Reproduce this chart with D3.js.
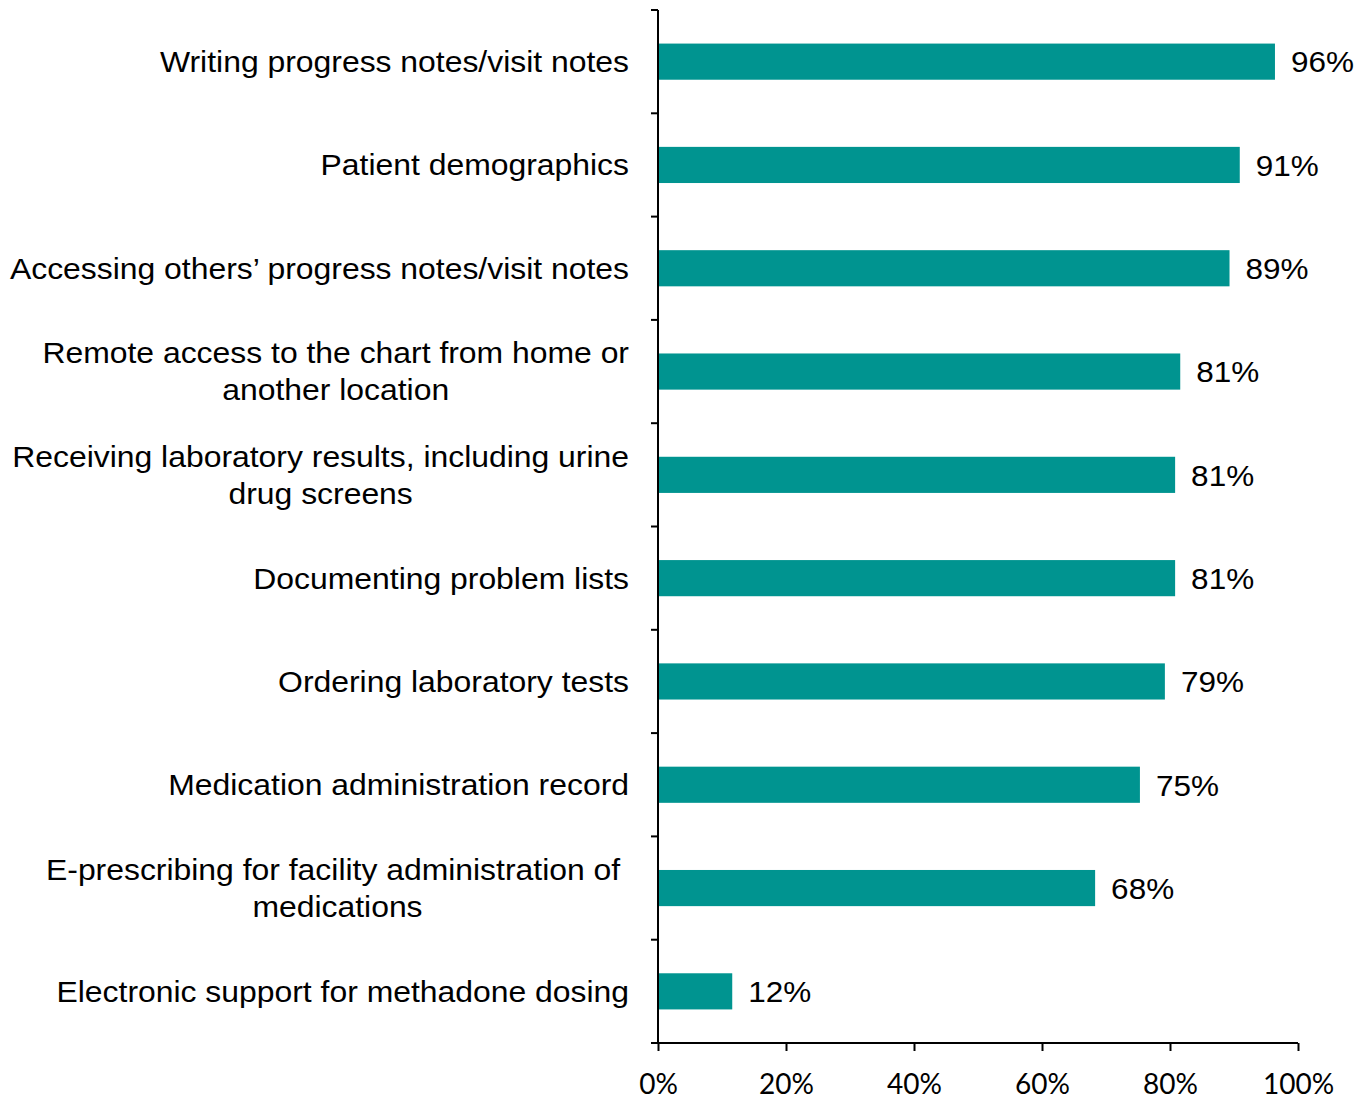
<!DOCTYPE html>
<html lang="en">
<head>
<meta charset="UTF-8">
<title>EHR functions</title>
<script src="https://d3js.org/d3.v7.min.js"></script>
<style>
  body { margin: 0; background: #fff; }
  .cat { font-family: "Liberation Sans", Arial, sans-serif; font-size: 29px; fill: #000; }
  .val { font-family: "Liberation Sans", Arial, sans-serif; font-size: 30px; fill: #000; }
  .tick text { font-family: Lato, "Open Sans", sans-serif; font-size: 28px; fill: #000; }
</style>
</head>
<body>
<script>
// category labels (lines as shown), bar values, value labels
var categories = [
  ["Writing progress notes/visit notes"],
  ["Patient demographics"],
  ["Accessing others\u2019 progress notes/visit notes"],
  ["Remote access to the chart from home or", "another location"],
  ["Receiving laboratory results, including urine", "drug screens"],
  ["Documenting problem lists"],
  ["Ordering laboratory tests"],
  ["Medication administration record"],
  ["E-prescribing for facility administration of\u00a0", "medications"],
  ["Electronic support for methadone dosing"]
];
var values = [96.4, 90.9, 89.3, 81.6, 80.8, 80.8, 79.2, 75.3, 68.3, 11.6];
var valueLabels = ["96%", "91%", "89%", "81%", "81%", "81%", "79%", "75%", "68%", "12%"];
var xTicks = [0, 20, 40, 60, 80, 100];

var W = 1367, H = 1099;
var mLeft = 658, mRight = 1298, mTop = 10, mBottom = 1043;
var stretch = 1.1;   // labels in the picture are a bit wider than the font

var svg = d3.select("body").append("svg").attr("width", W).attr("height", H);

var x = d3.scaleLinear().domain([0, 100]).range([mLeft, mRight]);
var y = d3.scaleBand().domain(d3.range(categories.length)).range([mTop, mBottom]).paddingInner(0.65).paddingOuter(0.325);
var yTicks = d3.scaleLinear().domain([0, categories.length]).range([mTop, mBottom]);

// bars
svg.selectAll(".bar").data(values).enter().append("rect")
  .attr("class", "bar")
  .attr("x", x(0))
  .attr("y", function(d, i) { return y(i); })
  .attr("width", function(d) { return x(d) - x(0); })
  .attr("height", y.bandwidth())
  .style("fill", "#009490");

// value labels
svg.selectAll(".val").data(values).enter().append("text")
  .attr("class", "val")
  .attr("transform", function(d, i) {
    return "translate(" + (x(d) + 16) + "," + (y(i) + y.bandwidth() / 2) + ") scale(1.05,1)";
  })
  .attr("dy", "0.36em")
  .text(function(d, i) { return valueLabels[i]; });

// y axis line and ticks
var ya = svg.append("g");
ya.append("line").attr("x1", mLeft).attr("x2", mLeft).attr("y1", mTop).attr("y2", mBottom)
  .style("stroke", "#000").style("stroke-width", 2);
ya.selectAll(".yt").data(d3.range(categories.length + 1)).enter().append("line")
  .attr("x1", mLeft - 7).attr("x2", mLeft)
  .attr("y1", function(d) { return yTicks(d); })
  .attr("y2", function(d) { return yTicks(d); })
  .style("stroke", "#000").style("stroke-width", 2);

// x axis
var xa = svg.append("g").attr("transform", "translate(0," + mBottom + ")")
  .call(d3.axisBottom(x).tickValues(xTicks).tickSize(8).tickPadding(23).tickFormat(function(d) { return d + "%"; }));
xa.select(".domain").attr("d", "M" + (mLeft - 7) + ",0H" + mRight).style("stroke", "#000").style("stroke-width", 2);
xa.selectAll(".tick line").style("stroke", "#000").style("stroke-width", 2);
xa.selectAll(".tick text").attr("dy", "0.71em");

// category labels: right-aligned block, lines centred within block
var labelRight = 629, lineH = 37;
categories.forEach(function(lines, i) {
  var cy = y(i) + y.bandwidth() / 2;
  var g = svg.append("g").attr("transform", "translate(" + labelRight + "," + cy + ") scale(" + stretch + ",1)");
  var ts = lines.map(function(l, k) {
    return g.append("text").attr("class", "cat")
      .attr("y", (k - (lines.length - 1) / 2) * lineH)
      .attr("dy", "0.36em")
      .style("white-space", "pre")
      .text(l);
  });
  var maxW = d3.max(ts, function(t) { return t.node().getComputedTextLength(); });
  ts.forEach(function(t) {
    t.attr("x", -maxW / 2).attr("text-anchor", "middle");
  });
});
</script>
</body>
</html>
